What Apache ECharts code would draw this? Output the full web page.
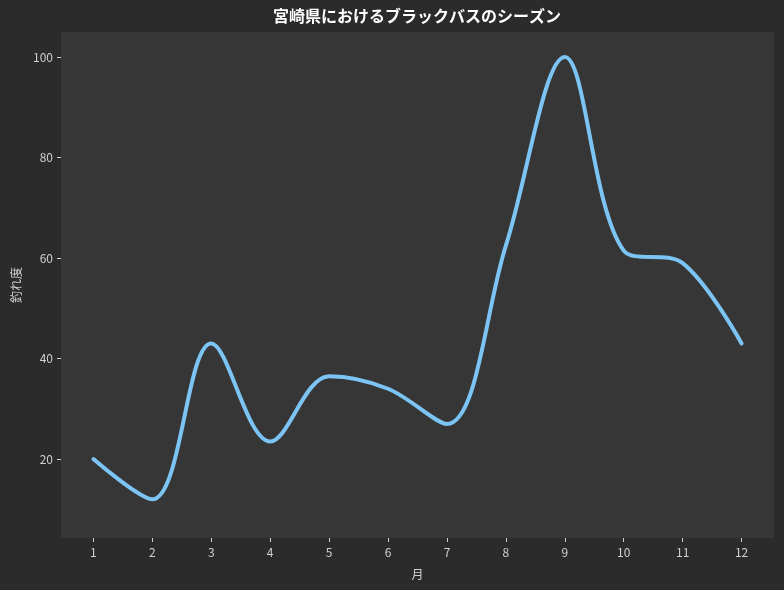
<!DOCTYPE html>
<html>
<head>
<meta charset="utf-8">
<script src="https://cdn.jsdelivr.net/npm/echarts@6/dist/echarts.min.js"></script>
<style>
html,body{margin:0;padding:0;background:#2b2b2b;}
#chart{width:784px;height:590px;}
</style>
</head>
<body>
<div id="chart"></div>
<script>
const months = [1,2,3,4,5,6,7,8,9,10,11,12];
const catchRate = [20, 12, 43, 23.5, 36.5, 34, 27, 62.5, 100, 61.5, 59, 43];
const xTicks = [1,2,3,4,5,6,7,8,9,10,11,12];
const yTicks = [20,40,60,80,100];
const titleText = '宮崎県におけるブラックバスのシーズン';
const xName = '月';
const yName = '釣れ度';

const FONT = '"Noto Sans CJK JP", "Noto Sans", sans-serif';
const chart = echarts.init(document.getElementById('chart'), null, {renderer:'canvas'});
chart.setOption({
  backgroundColor: '#2b2b2b',
  animation: false,
  graphic: [{
    type: 'text',
    x: 417, y: 8,
    style: {
      text: titleText,
      textAlign: 'center', textVerticalAlign: 'top',
      fill: '#ffffff', font: 'bold 16px ' + FONT
    }
  }],
  grid: {
    left: 61, right: 10, top: 32, bottom: 52,
    show: true, backgroundColor: '#363636', borderWidth: 0
  },
  xAxis: {
    type: 'value', min: 0.45, max: 12.55,
    name: xName, nameLocation: 'middle', nameGap: 30,
    nameTextStyle: {color: '#d0d0d0', fontSize: 12, fontFamily: FONT},
    axisLine: {show: false},
    splitLine: {show: false},
    axisTick: {show: true, customValues: xTicks, length: 4, lineStyle: {color: '#d0d0d0'}},
    axisLabel: {customValues: xTicks, color: '#d0d0d0', fontSize: 12, fontFamily: FONT, margin: 8}
  },
  yAxis: {
    type: 'value', min: 4.3, max: 105,
    name: yName, nameLocation: 'middle', nameGap: 37, nameRotate: 90,
    nameTextStyle: {color: '#d0d0d0', fontSize: 12, fontFamily: FONT},
    axisLine: {show: false},
    splitLine: {show: false},
    axisTick: {show: true, customValues: yTicks, length: 4, lineStyle: {color: '#d0d0d0'}},
    axisLabel: {customValues: yTicks, color: '#d0d0d0', fontSize: 12, fontFamily: FONT, margin: 8}
  },
  series: [{
    type: 'line',
    data: months.map((m, i) => [m, catchRate[i]]),
    smooth: 0.35,
    showSymbol: false,
    lineStyle: {color: '#7cc4f4', width: 4, cap: 'round'},
    itemStyle: {color: '#7cc4f4'}
  }]
});
</script>
</body>
</html>
